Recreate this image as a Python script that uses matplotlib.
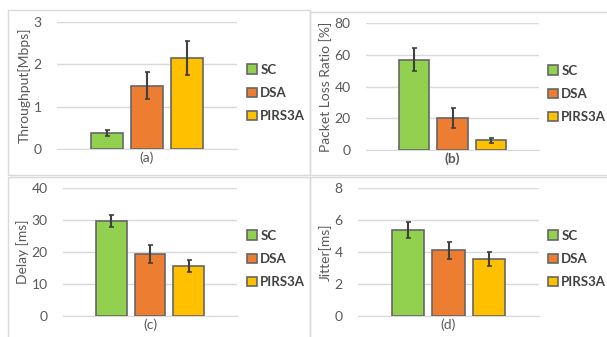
import numpy as np
import matplotlib.pyplot as plt
from matplotlib.patches import Rectangle

plt.rcParams['font.family'] = ['Lato', 'DejaVu Sans']

# Datos
metodos = ['SC', 'DSA', 'PIRS3A']
colores = ['#92D050', '#ED7D31', '#FFC000']

throughput = [0.37, 1.50, 2.15]
throughput_err = [0.07, 0.32, 0.40]
perdida = [57, 20.3, 6]
perdida_err = [7.2, 6.2, 1.6]
retardo = [29.7, 19.5, 15.6]
retardo_err = [1.8, 2.8, 2.0]
jitter = [5.35, 4.1, 3.55]
jitter_err = [0.5, 0.55, 0.42]

ylabels = ['Throughput[Mbps]', 'Packet Loss Ratio [%]', 'Delay [ms]', 'Jitter[ms]']
xlabels = ['(a)', '(b)', '(c)', '(d)']
yticks = [[0, 1, 2, 3], [0, 20, 40, 60, 80], [0, 10, 20, 30, 40], [0, 2, 4, 6, 8]]

W, H = 607, 337
fig = plt.figure(figsize=(W / 100, H / 100), dpi=100)

def caja(x0, y0, x1, y1):
    # rectangulo en pixeles (origen arriba a la izquierda)
    return [x0 / W, 1 - y1 / H, (x1 - x0) / W, (y1 - y0) / H]

# marcos de cada panel
for (x0, y0, x1, y1) in [(8, 10, 310, 175), (310, 12, 615, 175),
                         (8, 177, 310, 345), (310, 177, 615, 345)]:
    r = caja(x0, y0, x1, y1)
    fig.patches.append(Rectangle((r[0], r[1]), r[2], r[3], transform=fig.transFigure,
                                 fill=False, edgecolor='#D9D9D9', linewidth=1))

areas = [(57, 22, 237, 149), (366, 23, 539, 150), (63, 188, 237, 316), (358, 188, 539, 316)]
leyendas = [(247, 93), (548, 94), (247, 259), (548, 259)]
datos = [(throughput, throughput_err), (perdida, perdida_err),
         (retardo, retardo_err), (jitter, jitter_err)]

x = np.arange(len(metodos)) - 1
for i in range(4):
    ax = fig.add_axes(caja(*areas[i]))
    vals, errs = datos[i]
    bars = ax.bar(x, vals, width=0.8, color=colores, edgecolor='#666666', linewidth=1.2,
                  yerr=errs, error_kw=dict(ecolor='#404040', elinewidth=1.5, capsize=1.8,
                                           capthick=1.2), zorder=3)
    ax.set_xlim(-2.25, 2.25)
    ax.set_ylim(yticks[i][0], yticks[i][-1])
    ax.set_yticks(yticks[i])
    ax.set_xticks([])
    ax.grid(axis='y', color='#D9D9D9', linewidth=1, zorder=0)
    for s in ['top', 'right', 'left']:
        ax.spines[s].set_visible(False)
    ax.spines['bottom'].set_color('#D9D9D9')
    ax.tick_params(axis='y', length=0, labelsize=10, labelcolor='#595959', pad=11)
    ax.set_ylabel(ylabels[i], fontsize=10, color='#595959', labelpad=2)
    ax.set_xlabel(xlabels[i], fontsize=10, color='#595959', labelpad=2,
                  fontweight='bold' if i == 1 else 'normal')
    lx, ly = leyendas[i]
    leg = ax.legend(bars, metodos, loc='center left', bbox_to_anchor=(lx / W, 1 - ly / H),
                    bbox_transform=fig.transFigure, frameon=False, fontsize=9.5,
                    handlelength=0.75, handleheight=0.75, handletextpad=0.25,
                    labelspacing=0.85, borderpad=0, borderaxespad=0)
    for t in leg.get_texts():
        t.set_color('#404040')
        t.set_fontweight('bold')

fig.savefig('out.png', dpi=100)
